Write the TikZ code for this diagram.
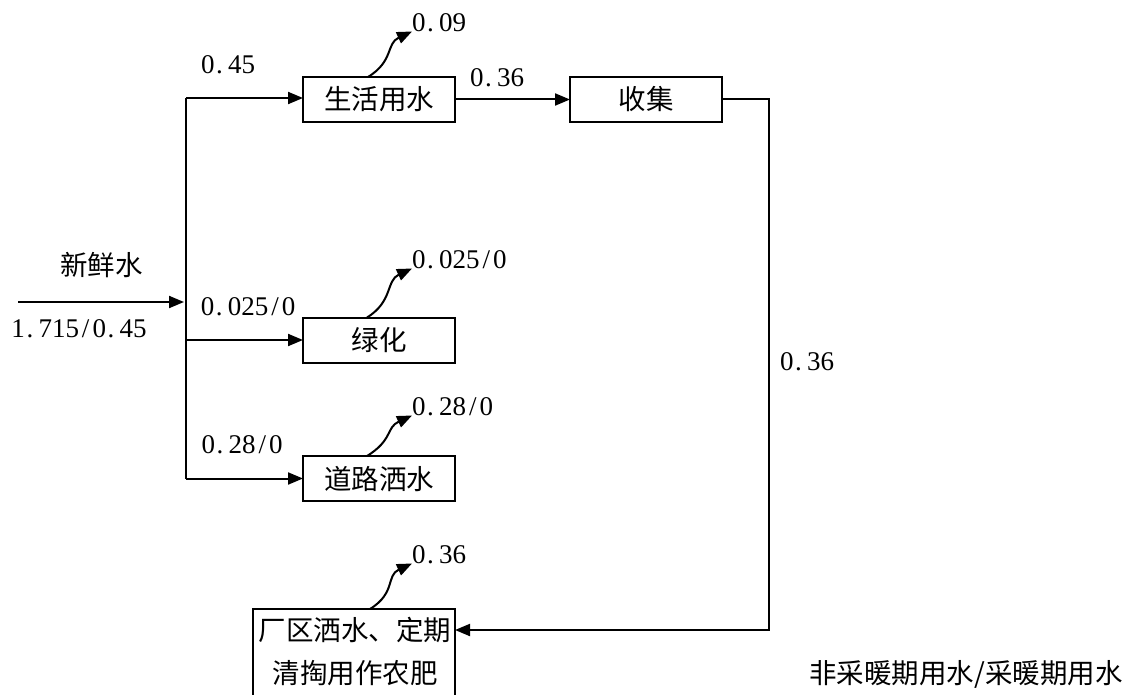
\documentclass[tikz,border=0pt]{standalone}
\usepackage{fontspec}
\setmainfont{Noto Sans CJK SC}
\newfontfamily\digitfont{Liberation Serif}
\usetikzlibrary{arrows.meta,calc}
\newcommand\cjkf{\fontsize{27.5}{32}\selectfont}
\newcommand\numf{\digitfont\fontsize{27}{30}\selectfont}
\newcommand\pd{\makebox[0.5em][l]{\hspace{0.06em}.}}
\newcommand\sls{\makebox[0.5em]{/}}
\begin{document}
\begin{tikzpicture}[x=1pt,y=-1pt,
  every node/.style={inner sep=0pt,outer sep=0pt},
  ln/.style={line width=2pt},
  arr/.style={ln,-{Triangle[length=15pt,width=12pt]}},
  cn/.style={font=\cjkf,text height=23pt,text depth=2pt},
  box/.style={cn,draw,line width=2pt,minimum height=45pt,minimum width=152pt},
  num/.style={font=\numf,text height=17pt,text depth=0pt},
  outflow/.style={arr},
  outlab/.style={num,anchor=west}]
\fill[white] (0,0) rectangle (1137,695);
\clip (0,0) rectangle (1137,695);

% boxes
\node[box] (sh) at (379,99.5) {生活用水};
\node[box] (sj) at (646,99.5) {收集};
\node[box] (lh) at (379,340) {绿化};
\node[box] (dl) at (379,478.5) {道路洒水};
\node[box,minimum width=202pt,minimum height=110pt] (cq) at (354,664) {};
\node[cn] (cqt1) at (355,630) {厂区洒水、定期};
\node[cn] (cqt2) at (355,673) {清掏用作农肥};

% trunk and branches
\coordinate (t1) at (186,98);
\coordinate (t2) at (186,479);
\draw[ln] (t1) -- (t2);
\draw[arr] (t1) -- (t1 -| sh.west);
\draw[arr] (lh.west -| t1) -- (lh.west);
\draw[arr] (dl.west -| t1) -- (dl.west);
\coordinate (in) at (18,302);
\draw[arr,shorten >=2pt] (in) -- (in -| t1);

\draw[arr] (sh.east) -- (sj.west);
\coordinate (cqin) at ($(cq.north east)+(0,21)$);
\draw[arr] (sj.east) -- ++(47,0) |- (cqin);

% labels
\node[cn] (xxs) at (101.5,265) {新鲜水};
\node[num] (lin) at (79,329) {1\pd715\sls0\pd45};
\node[num] (l1) at (228,65) {0\pd45};
\node[num] (l2) at (248,307) {0\pd025\sls0};
\node[num] (l3) at (242,445) {0\pd28\sls0};
\node[num] (l4) at (497,78) {0\pd36};
\node[num] (l5) at (807,362) {0\pd36};
\node[cn] (note) at (966,673) {非采暖期用水/采暖期用水};

% outflows
\node[outlab] (o1) at (412,23) {0\pd09};
\node[outlab] (o2) at (412,260) {0\pd025\sls0};
\node[outlab] (o3) at (412,407) {0\pd28\sls0};
\node[outlab] (o4) at (412,555) {0\pd36};
\draw[outflow] ($(sh.north)+(-11,0)$) .. controls +(26,-16) and +(-26,12) .. (o1.south west);
\draw[outflow] ($(lh.north)+(-12,0)$) .. controls +(26,-16) and +(-26,12) .. (o2.south west);
\draw[outflow] ($(dl.north)+(-12,0)$) .. controls +(26,-16) and +(-26,12) .. (o3.south west);
\draw[outflow] ($(cq.north)+(16,0)$) .. controls +(26,-16) and +(-26,12) .. (o4.south west);
\end{tikzpicture}
\end{document}
